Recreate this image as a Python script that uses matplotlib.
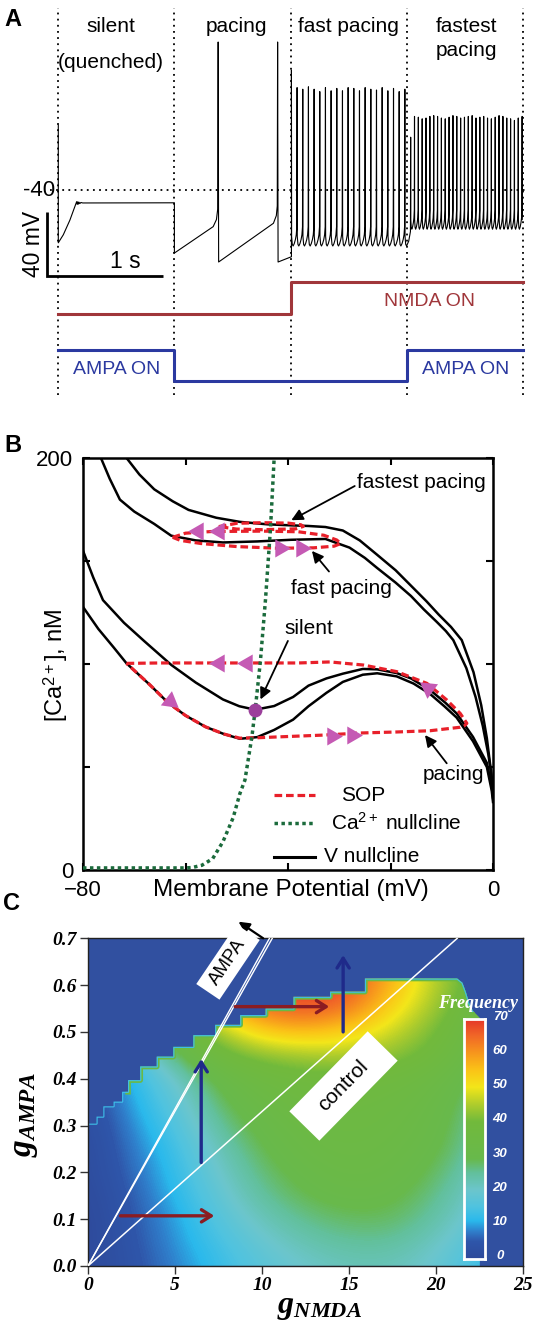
import numpy as np
import matplotlib
matplotlib.use("Agg")
import matplotlib.pyplot as plt
from matplotlib.patches import Polygon, Rectangle
from matplotlib.colors import LinearSegmentedColormap
from matplotlib.transforms import Affine2D

plt.rcParams["font.family"] = ["Liberation Sans", "DejaVu Sans"]
plt.rcParams["mathtext.fontset"] = "custom"
plt.rcParams["mathtext.rm"] = "Liberation Sans"
plt.rcParams["mathtext.it"] = "Liberation Serif:italic"
plt.rcParams["mathtext.bf"] = "Liberation Serif:bold:italic"

# ====================== DATA ======================
# ---- Panel A: voltage trace (t in s, V in mV) ----
segment_edges = [0, 1, 2, 3, 4]
segment_titles = ["silent", "pacing", "fast pacing", "fastest"]
segment_subtitles = ["(quenched)", "", "", "pacing"]
nmda_on = [0, 0, 1, 1]
ampa_on = [1, 0, 0, 1]

silent_t = [0.0, 0.0, 0.043, 0.100, 0.143, 0.158, 0.163, 0.168, 0.173, 0.178, 0.185, 0.195, 0.210, 1.0]
silent_v = [0.6, -73.0, -68.0, -58.8, -50.4, -47.3, -49.0, -47.4, -48.8, -47.6, -48.5, -47.8, -48.1, -48.0]
pacing_t = [1.0, 1.0, 1.334, 1.362, 1.373, 1.377, 1.381, 1.853, 1.878, 1.886, 1.889, 1.893, 2.008]
pacing_v = [-48.0, -79.4, -62.9, -58.5, -52.0, 52.5, -85.0, -60.8, -56.0, -50.0, 52.5, -85.0, -81.7]
fast_span = (2.008, 2.985)
fast_peaks = [35.0, 24.0, 23.0, 24.5, 23.0, 21.5, 24.0, 22.0, 23.5, 22.0, 24.0,
              23.5, 22.0, 24.0, 23.0, 22.5, 24.0, 22.0, 23.5, 21.5, 23.0]
fast_trough = -75.0
bridge_t = [3.018, 3.033]
bridge_v = [-72.0, -66.0]
fastest_span = (3.035, 3.995)
fastest_peaks = [-7.0, 6.0, 5.5, 4.5, 5.0, 6.0, 6.5, 6.0, 5.0, 4.5, 5.5, 6.5, 6.0, 5.0, 5.5,
                 6.0, 6.5, 5.0, 5.5, 6.0, 5.0, 4.5, 5.5, 6.5, 6.0, 5.0, 4.5, 3.5, 5.0, 6.0]
fastest_trough = -64.5

# ---- Panel B: phase plane (V in mV, Ca in nM) ----
vnull_fastest_V = [-71.5, -69.0, -66.1, -62.5, -59.4, -54.0, -49.4, -44.0, -39.4, -36.0, -32.7, -29.3, -26.0,
                   -22.6, -19.0, -16.0, -13.0, -10.6, -8.2, -6.1, -3.8, -2.3, -1.2, -0.4, 0.0]
vnull_fastest_Ca = [200, 192, 184.8, 179, 174.8, 171, 169, 167.8, 167.3, 167, 166.5, 164.8, 160,
                    153, 145.5, 138, 130.5, 124, 118, 111.6, 96, 80, 64, 48, 38]
vnull_fast_V = [-76.5, -74.8, -72.8, -70.0, -66.1, -62.8, -58.0, -52.7, -46.0, -39.4, -32.7, -28.0, -25.0,
                -22.6, -19.0, -16.0, -13.5, -11.0, -9.2, -7.75, -5.2, -3.4, -2.0, -0.9, -0.2, 0.0]
vnull_fast_Ca = [200, 190, 179.8, 174, 168, 162.3, 160, 159, 159.5, 160.3, 160.7, 156.5, 151.5,
                 146.6, 139.5, 133, 126.5, 120.5, 116, 111.6, 98, 84, 70, 56, 44, 38]
vnull_silent_V = [-80, -78.0, -76.1, -72.0, -68.0, -62.75, -58.0, -52.7, -49.5, -46.4, -42.7, -39.0, -36.0,
                  -32.5, -29.3, -25.4, -22.6, -18.8, -16.0, -12.3, -9.3, -7.1, -3.9, -1.2, -0.25, 0.0]
vnull_silent_Ca = [155, 142, 131, 120, 111, 99.5, 91, 82.8, 79.5, 77.8, 79.6, 84, 89.5,
                   93, 95.3, 97.6, 97.4, 95.6, 93, 87.4, 81.2, 76, 64.6, 52, 40.4, 35]
vnull_pacing_V = [-80, -77.0, -74.0, -71.5, -67.0, -63.4, -60.0, -56.1, -52.5, -49.4, -46.0, -42.7, -39.0, -36.0,
                  -32.5, -29.3, -25.4, -22.6, -18.8, -15.5, -12.3, -9.5, -7.1, -3.9, -1.2, -0.25, 0.0]
vnull_pacing_Ca = [127.7, 117, 108, 100.3, 90, 81.2, 75, 69.5, 66, 63.7, 64.5, 68, 73, 79.5,
                   86, 91.3, 94.8, 95.5, 94, 90.5, 85.5, 79.5, 74, 62.5, 50, 38.5, 33]

sop_pacing_V = [-71.5, -65, -55, -45, -38, -31.8, -25.3, -18.8, -12.9, -9.0, -6.4, -5.1, -5.6, -6.4, -12.3,
                -18.8, -26.0, -33, -40, -46.0, -49.4, -52.5, -56.1, -60.0, -63.4, -67.0, -71.5]
sop_pacing_Ca = [100.3, 100.5, 100.5, 100.5, 100.5, 101, 99.5, 96.3, 90.6, 82.5, 76, 71.2, 70, 69.3, 67.6,
                 67, 66.5, 65.5, 64.8, 64.2, 64, 66, 69.5, 75, 81.2, 90, 100.3]
sop_fast_V = [-62.5, -60, -55, -45, -38, -33, -30.5, -29.7, -31, -35, -42, -50, -57, -61, -62.5]
sop_fast_Ca = [161.5, 163.5, 164.3, 164.5, 164.2, 162.5, 160.2, 158.5, 157.2, 156.4, 156.2, 157, 158.5, 160, 161.5]
sop_fastest_V = [-53.5, -50, -45, -40, -37.5, -37, -38.5, -45, -50, -53.5]
sop_fastest_Ca = [166.7, 168.3, 168.6, 168.4, 167.6, 166.8, 165.6, 165.2, 165.5, 166.7]

ca_null_V = [-80, -70, -60, -58.7, -56.8, -54.7, -52.7, -50.7, -49.4, -48.4, -47.05, -46.4, -45.4, -44.4, -43.4, -42.7]
ca_null_Ca = [1, 1, 1, 1.2, 2.3, 5.5, 13.7, 25.4, 37, 43.7, 64.6, 77.8, 101, 131, 166.5, 200]

silent_point = (-46.4, 77.8)
# direction marks on the orbits: V, Ca, direction (deg)
flow_V = [-57.5, -53.5, -41.5, -37.5, -53.5, -48.0, -63.1, -12.6, -31.5, -27.5]
flow_Ca = [164.4, 164.5, 156.2, 156.4, 100.5, 100.5, 82.0, 88.5, 65.2, 65.6]
flow_dir = [180, 180, 0, 0, 180, 180, -38, 144, 0, 0]

# ---- Panel C: frequency map ----
gnmda_grid = [0, 2.5, 5, 7.5, 10, 12.5, 15, 17.5, 20, 22.5, 25]
gampa_grid = [0.0, 0.05, 0.1, 0.15, 0.2, 0.25, 0.3, 0.35, 0.4, 0.45, 0.5, 0.55, 0.6, 0.65, 0.7]
freq = [
    [0, 4, 8, 12.5, 17, 20, 22, 22, 19, 13, 8],
    [0, 4.5, 9, 14, 19, 23, 25, 25, 21, 15, 9],
    [0, 5, 9.5, 16, 22, 26, 28, 28, 24, 17, 10],
    [0.5, 5.5, 11, 18, 25, 29, 31, 30, 26, 19, 11],
    [1, 6.5, 12, 20, 27, 31, 33, 32, 28, 21, 12],
    [1, 7.5, 13, 22, 29, 33, 34, 33, 30, 23, 13],
    [1.5, 8.5, 15, 25, 31, 34, 35, 34, 31, 24, 14],
    [2, 10, 17, 28, 33, 36, 36, 35, 32, 25, 15],
    [3, 11, 20, 31, 36, 38, 38, 37, 34, 27, 16],
    [5, 13, 28, 38, 42, 44, 45, 42, 38, 30, 18],
    [8, 18, 34, 44, 54, 56, 53, 47, 40, 32, 20],
    [12, 20, 38, 56, 64, 67, 63, 52, 43, 34, 22],
    [14, 22, 40, 60, 67, 70, 68, 56, 45, 36, 24],
    [14, 22, 40, 60, 67, 70, 68, 56, 45, 36, 24],
    [14, 22, 40, 60, 67, 70, 68, 56, 45, 36, 24],
]
# upper-left staircase edge of the oscillating region
stair_x = [0, 0.49, 0.88, 1.47, 1.96, 2.3, 3.0, 3.95, 4.9, 6.05, 7.3, 8.74, 10.2, 11.8, 13.9, 15.9, 21.2]
stair_y = [0.304, 0.319, 0.341, 0.351, 0.372, 0.397, 0.426, 0.447, 0.468, 0.493, 0.515, 0.536, 0.55,
           0.575, 0.586, 0.614]
right_edge_x = [21.5, 21.7, 21.9, 22.1, 22.5, 22.5]
right_edge_y = [0.605, 0.585, 0.56, 0.545, 0.53, 0.0]
ampa_line_x = [10.42, 10.58]   # gNMDA where the AMPA lines reach gAMPA = 0.7
control_line_x = 21.2
freq_ticks = [0, 10, 20, 30, 40, 50, 60, 70]

# ====================== FIGURE ======================
W, H = 537, 1321
fig = plt.figure(figsize=(W / 100, H / 100), dpi=100)
fig.patch.set_facecolor("white")


def frect(l, t, r, b):
    return [l / W, 1 - b / H, (r - l) / W, (b - t) / H]


def ftext(x, y, s, **kw):
    return fig.text(x / W, 1 - y / H, s, **kw)


def rot_box(cx, cy, w, h, ang, label, fs):
    tr = Affine2D().rotate_deg_around(cx, H - cy, ang)
    r = Rectangle((cx - w / 2, H - cy - h / 2), w, h, transform=tr,
                  facecolor="white", edgecolor="none", zorder=5)
    fig.add_artist(r)
    fig.text(cx / W, 1 - cy / H, label, rotation=ang, rotation_mode="anchor",
             ha="center", va="center", fontsize=fs, color="black", zorder=6)


# ---------------- Panel A ----------------
PX0, PXS = 58.3, 116.1
PY40, PYS = 190.0, 1.6


def t_of(px):
    return (px - PX0) / PXS


def v_of(py):
    return -40 - (py - PY40) / PYS


phase = [0.03, 0.15, 0.30, 0.50, 0.70, 0.85, 0.95]
rise = [6, 1, 0, 1.5, 4, 7, 12]


def train(span, peaks, trough, last_limit):
    n = len(peaks)
    T = (span[1] - span[0]) / (n - 1)
    ts, vs = [], []
    for k, pk in enumerate(peaks):
        tk = span[0] + k * T
        ts.append(tk)
        vs.append(pk)
        for p, r in zip(phase, rise):
            if k == n - 1 and p > last_limit:
                break
            ts.append(tk + p * T)
            vs.append(trough + r)
    return ts, vs


ft, fv = train(fast_span, fast_peaks, fast_trough, 0.3)
xt, xv = train(fastest_span, fastest_peaks, fastest_trough, 0.03)
trace_t = silent_t + pacing_t + ft + bridge_t + xt
trace_v = silent_v + pacing_v + fv + bridge_v + xv

axA = fig.add_axes(frect(20, 5, 537, 300))
axA.set_xlim(t_of(20), t_of(537))
axA.set_ylim(v_of(300), v_of(5))
axA.axis("off")
axA.plot(trace_t, trace_v, color="black", lw=0.8)
axA.plot([t_of(50), t_of(527)], [-40, -40], color="black", lw=1.3, ls=(0, (1, 2.4)))
sb_t = t_of(46.7)
sb_v = v_of(276)
axA.plot([sb_t, sb_t, sb_t + 1.0], [sb_v + 40, sb_v, sb_v], color="black", lw=2.0,
         solid_joinstyle="miter", solid_capstyle="butt")

axS = fig.add_axes(frect(20, 5, 537, 395))
axS.set_xlim(t_of(20), t_of(537))
axS.set_ylim(0, 1)
axS.axis("off")
axS.patch.set_alpha(0)


def s_of(py):
    return (395 - py) / 390


for e in segment_edges:
    axS.plot([e, e], [s_of(395), s_of(8)], color="black", lw=1.3, ls=(0, (1, 2.4)))
nmda_col = "#a0363a"
ampa_col = "#2b39a0"
nm_y = [s_of(314) + on * (s_of(282) - s_of(314)) for on in nmda_on]
am_y = [s_of(381) + on * (s_of(350) - s_of(381)) for on in ampa_on]
axS.step(segment_edges, nm_y + [nm_y[-1]], where="post", color=nmda_col, lw=2.2)
axS.step(segment_edges, am_y + [am_y[-1]], where="post", color=ampa_col, lw=2.2)

ftext(13, 19, "A", fontsize=17, fontweight="bold", ha="center", va="center")
title_x = [111, 236, 348, 466]
for x, s1, s2 in zip(title_x, segment_titles, segment_subtitles):
    ftext(x, 26, s1, fontsize=15, ha="center", va="center")
    if s2:
        ftext(x, 62 if s2.startswith("(") else 51, s2, fontsize=15, ha="center", va="center")
ftext(55, 190, "-40", fontsize=16, ha="right", va="center")
ftext(33, 244, "40 mV", fontsize=16.5, rotation=90, ha="center", va="center")
ftext(125, 262, "1 s", fontsize=16.5, ha="center", va="center")
ftext(429, 301, "NMDA ON", fontsize=14, color=nmda_col, ha="center", va="center")
ftext(116.5, 369, "AMPA ON", fontsize=14, color=ampa_col, ha="center", va="center")
ftext(466, 369, "AMPA ON", fontsize=14, color=ampa_col, ha="center", va="center")

# ---------------- Panel B ----------------
axB = fig.add_axes(frect(83, 458, 493, 870))
axB.set_xlim(-80, 0)
axB.set_ylim(0, 200)
for V, C in [(vnull_fastest_V, vnull_fastest_Ca), (vnull_fast_V, vnull_fast_Ca),
             (vnull_silent_V, vnull_silent_Ca), (vnull_pacing_V, vnull_pacing_Ca)]:
    axB.plot(V, C, color="black", lw=1.8, zorder=2, solid_joinstyle="round")
sop_col = "#e8202a"
for V, C in [(sop_pacing_V, sop_pacing_Ca), (sop_fast_V, sop_fast_Ca), (sop_fastest_V, sop_fastest_Ca)]:
    axB.plot(V, C, color=sop_col, lw=2.3, ls=(0, (2.4, 1.2)), zorder=3)
green = "#1b6b3c"
axB.plot(ca_null_V, ca_null_Ca, color=green, lw=2.5, ls=(0, (1, 1)), zorder=4)
mag = "#c55ab4"
for v, c, d in zip(flow_V, flow_Ca, flow_dir):
    axB.plot([v], [c], marker=(3, 0, d - 90), ms=15, color=mag, mec="none", zorder=5)
axB.plot([silent_point[0]], [silent_point[1]], "o", ms=10, color="#9b3f9b", mec="none", zorder=6)

axB.set_xticks([-80, -60, -40, -20, 0])
axB.set_xticklabels(["\u221280", "", "", "", "0"])
axB.set_yticks([0, 50, 100, 150, 200])
axB.set_yticklabels(["0", "", "", "", "200"])
axB.tick_params(direction="in", top=True, right=True, length=5, width=1.5, labelsize=16)
axB.tick_params(axis="x", pad=7.5)
axB.tick_params(axis="y", pad=7)
for sp in axB.spines.values():
    sp.set_linewidth(1.8)

ftext(291, 890, "Membrane Potential (mV)", fontsize=17.5, ha="center", va="center")
ftext(56, 665, "[Ca$^{2+}$], nM", fontsize=17, rotation=90, ha="center", va="center")
ftext(13, 445, "B", fontsize=17, fontweight="bold", ha="center", va="center")

arrow_kw = dict(arrowstyle="-|>", color="black", lw=1.3, mutation_scale=17, shrinkA=0, shrinkB=0)
axB.annotate("", xy=(-39.35, 169.8), xytext=(-26.98, 186.4), arrowprops=arrow_kw)
axB.annotate("", xy=(-35.33, 154.9), xytext=(-32.0, 144.9), arrowprops=arrow_kw)
axB.annotate("", xy=(-45.37, 82.8), xytext=(-40.02, 111.2), arrowprops=arrow_kw)
axB.annotate("", xy=(-13.27, 65.5), xytext=(-9.03, 51.8), arrowprops=arrow_kw)
ftext(421.5, 482, "fastest pacing", fontsize=15, ha="center", va="center")
ftext(341, 589, "fast pacing", fontsize=15, ha="center", va="center")
ftext(308.4, 629, "silent", fontsize=15, ha="center", va="center")
ftext(453.3, 775, "pacing", fontsize=15, ha="center", va="center")


# legend (manual)
def bx(px):
    return (px - 83) / 410


def by(py):
    return (870 - py) / 412


axB.plot([bx(274), bx(315)], [by(795.4)] * 2, color=sop_col, lw=2.3, ls=(0, (2.4, 1.2)),
         transform=axB.transAxes)
axB.plot([bx(274), bx(315)], [by(822.8)] * 2, color=green, lw=2.5, ls=(0, (1, 1)),
         transform=axB.transAxes)
axB.plot([bx(274), bx(315)], [by(857)] * 2, color="black", lw=2.2, transform=axB.transAxes)
ftext(341, 795.4, "SOP", fontsize=15, ha="left", va="center")
ftext(330.7, 822.8, "Ca$^{2+}$ nullcline", fontsize=15, ha="left", va="center")
ftext(323.8, 857, "V nullcline", fontsize=15, ha="left", va="center")

# ---------------- Panel C ----------------
cmap = LinearSegmentedColormap.from_list("freq", [
    (0 / 70, "#2e4a9b"), (5 / 70, "#2f56aa"), (8 / 70, "#2f80cc"), (11 / 70, "#2ab9ec"),
    (15 / 70, "#4fc3e0"), (20 / 70, "#6cc6cc"), (25 / 70, "#62c09c"), (29 / 70, "#68b94c"),
    (40 / 70, "#72ba3c"), (45 / 70, "#b0cd2c"), (50 / 70, "#f3e61a"), (55 / 70, "#fbc317"),
    (60 / 70, "#f7961d"), (65 / 70, "#f16727"), (70 / 70, "#e4342a")])
bg_blue = "#3150a0"

axC = fig.add_axes(frect(88, 938.3, 523.4, 1265.9))
axC.set_facecolor(bg_blue)
axC.set_xlim(0, 25)
axC.set_ylim(0, 0.7)
dx = gnmda_grid[1] - gnmda_grid[0]
dy = gampa_grid[1] - gampa_grid[0]
im = axC.imshow(np.array(freq), origin="lower", cmap=cmap, vmin=0, vmax=70,
                interpolation="bicubic", aspect="auto", zorder=1,
                extent=[gnmda_grid[0] - dx / 2, gnmda_grid[-1] + dx / 2,
                        gampa_grid[0] - dy / 2, gampa_grid[-1] + dy / 2])
verts = [(0, 0)]
for i in range(len(stair_y)):
    verts.append((stair_x[i], stair_y[i]))
    verts.append((stair_x[i + 1], stair_y[i]))
edge_verts = list(verts[1:])
verts += list(zip(right_edge_x, right_edge_y))
poly = Polygon(verts, closed=True, transform=axC.transData)
im.set_clip_path(poly)
gx = [p[0] for p in edge_verts if p[0] >= 2.3] + right_edge_x[:4]
gy = [p[1] for p in edge_verts if p[0] >= 2.3] + right_edge_y[:4]
cx_ = [p[0] for p in edge_verts] + right_edge_x[:4]
cy_ = [p[1] for p in edge_verts] + right_edge_y[:4]
l1, = axC.plot(gx, gy, color="#6ab944", lw=4.0, zorder=2)
l1.set_clip_path(poly)
l2, = axC.plot(cx_, cy_, color="#3ec0e8", lw=1.6, zorder=2)
l2.set_clip_path(poly)

for xe in ampa_line_x:
    axC.plot([0, xe], [0, 0.7], color="white", lw=1.0, zorder=3)
axC.plot([0, control_line_x], [0, 0.7], color="white", lw=1.1, zorder=3)

dred = "#8b1c22"
dblue = "#1f2a8a"
hstyle = "->,head_length=0.35,head_width=0.22"
akw = dict(lw=2.4, shrinkA=0, shrinkB=0, mutation_scale=20)
axC.annotate("", xy=(7.25, 0.107), xytext=(1.86, 0.107),
             arrowprops=dict(arrowstyle=hstyle, color=dred, **akw))
axC.annotate("", xy=(13.85, 0.554), xytext=(8.45, 0.554),
             arrowprops=dict(arrowstyle=hstyle, color=dred, **akw))
axC.annotate("", xy=(6.5, 0.442), xytext=(6.5, 0.221),
             arrowprops=dict(arrowstyle=hstyle, color=dblue, **akw))
axC.annotate("", xy=(14.65, 0.664), xytext=(14.65, 0.5),
             arrowprops=dict(arrowstyle=hstyle, color=dblue, **akw))
axC.annotate("", xy=(8.64, 0.7355), xytext=(10.06, 0.7), annotation_clip=False,
             arrowprops=dict(arrowstyle="-|>", color="black", lw=1.6, mutation_scale=16,
                             shrinkA=0, shrinkB=0))

axC.set_xticks([0, 5, 10, 15, 20, 25])
axC.set_xticklabels(["0", "5", "10", "15", "20", "25"], fontfamily="Liberation Serif",
                    fontweight="bold", fontstyle="italic", fontsize=14)
gampa_ticks = [0.0, 0.1, 0.2, 0.3, 0.4, 0.5, 0.6, 0.7]
axC.set_yticks(gampa_ticks)
axC.set_yticklabels(["%.1f" % v for v in gampa_ticks], fontfamily="Liberation Serif",
                    fontweight="bold", fontstyle="italic", fontsize=14)
axC.tick_params(direction="out", length=6, width=1, color="#333333", pad=2)
for sp in axC.spines.values():
    sp.set_color("#222222")
    sp.set_linewidth(1.0)

rot_box(343.5, 1086, 112, 42, 45.6, "control", 15)
rot_box(228, 962, 72, 28, 56, "AMPA", 13.5)

# colorbar
axCB = fig.add_axes(frect(464, 1019, 485, 1259))
axCB.imshow(np.linspace(0, 70, 256).reshape(-1, 1), origin="lower", aspect="auto",
            cmap=cmap, vmin=0, vmax=70, extent=[0, 1, 0, 70])
axCB.set_xticks([])
axCB.set_yticks([])
for sp in axCB.spines.values():
    sp.set_color("white")
    sp.set_linewidth(2.0)
for v in freq_ticks:
    ftext(500, 1256 - v * 239 / 70, str(v), color="white", fontsize=9.5, fontweight="bold",
          fontstyle="italic", ha="center", va="center")
ftext(478, 1003, "Frequency", color="white", fontfamily="Liberation Serif", fontweight="bold",
      fontstyle="italic", fontsize=13, ha="center", va="center")

ftext(11, 903, "C", fontsize=17, fontweight="bold", ha="center", va="center")
ftext(24, 1115, r"$\mathbf{g}_{\mathbf{AMPA}}$", fontsize=24, rotation=90, ha="center", va="center")
ftext(320, 1307, r"$\mathbf{g}_{\mathbf{NMDA}}$", fontsize=23, ha="center", va="center")

fig.savefig("out.png", dpi=100)
